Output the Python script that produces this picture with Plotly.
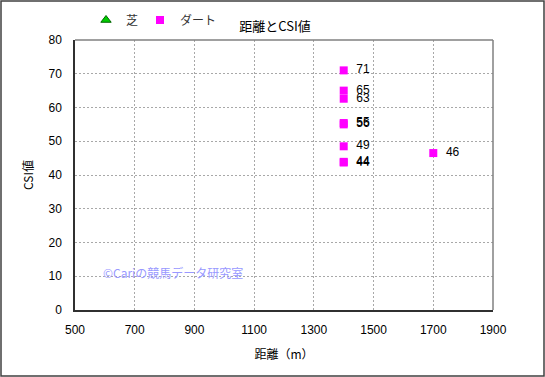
import plotly.graph_objects as go

# data
turf_dist = [None]
turf_csi = [None]
dirt_dist = [1400, 1400, 1400, 1400, 1400, 1400, 1400, 1400, 1700]
dirt_csi = [71.0, 65.0, 62.6, 55.4, 55.0, 48.5, 43.9, 43.7, 46.5]
dirt_labels = ["71", "65", "63", "55", "56", "49", "44", "44", "46"]
x_ticks = [500, 700, 900, 1100, 1300, 1500, 1700, 1900]
y_ticks = [0, 10, 20, 30, 40, 50, 60, 70, 80]

FONT = "Liberation Sans, Noto Sans CJK JP"
JFONT = "Noto Sans CJK JP"
W, H = 545, 377
L, R, T, B = 75, 52, 40, 67
pw, ph = W - L - R, H - T - B

fig = go.Figure()
fig.add_trace(go.Scatter(
    x=turf_dist, y=turf_csi, mode="markers", name="芝", legend="legend",
    marker=dict(symbol="triangle-up", size=9, color="#00cc00",
                line=dict(color="#006600", width=1)),
))
fig.add_trace(go.Scatter(
    x=dirt_dist, y=dirt_csi, mode="markers+text", name="ダート", legend="legend2",
    text=dirt_labels, texttemplate="  %{text}", textposition="middle right",
    textfont=dict(family=FONT, size=12, color="#000000"),
    marker=dict(symbol="square", size=8, color="#ff00ff"),
    cliponaxis=False,
))

def px_x(p):
    return (p - L) / pw

def px_y(p):
    return (H - B - p) / ph

# outer frame
fig.add_shape(type="rect", xref="paper", yref="paper",
              x0=px_x(1), x1=px_x(W - 1), y0=px_y(H - 1), y1=px_y(1),
              line=dict(color="#404040", width=1.5), layer="below")
# top and right plot border (gray)
fig.add_shape(type="line", xref="paper", yref="paper", x0=0, x1=1, y0=1, y1=1,
              line=dict(color="#808080", width=1.5))
fig.add_shape(type="line", xref="paper", yref="paper", x0=1, x1=1, y0=0, y1=1,
              line=dict(color="#808080", width=1.5))

fig.add_annotation(text="©Cariの競馬データ研究室", xref="paper", yref="paper",
                   x=px_x(101), y=px_y(272), xanchor="left", yanchor="middle",
                   showarrow=False,
                   font=dict(family=JFONT, size=12, color="#9999ff"))

legend_common = dict(orientation="h", xref="container", yref="container",
                     y=1 - 20 / H, xanchor="left", yanchor="middle",
                     font=dict(family=JFONT, size=12, color="#333333"),
                     itemwidth=30, bgcolor="rgba(0,0,0,0)")

fig.update_layout(
    width=W, height=H,
    margin=dict(l=L, r=R, t=T, b=B, autoexpand=False),
    paper_bgcolor="white", plot_bgcolor="white",
    font=dict(family=FONT, size=12, color="#000000"),
    title=dict(text="距離とCSI値", x=275 / W, xanchor="center",
               y=1 - 26 / H, yanchor="middle",
               font=dict(family=JFONT, size=13, color="#000000")),
    showlegend=True,
    legend=dict(x=86 / W, **legend_common),
    legend2=dict(x=140 / W, **legend_common),
    xaxis=dict(range=[500, 1900], tickvals=x_ticks, ticks="outside", ticklen=8,
               tickcolor="rgba(0,0,0,0)", showgrid=True,
               gridcolor="#a8a8a8", griddash="2px,2px", gridwidth=1,
               zeroline=False, showline=True, linecolor="#303030", linewidth=1.5,
               title=dict(text="距離（m）", standoff=14,
                          font=dict(family=JFONT, size=12)),
               tickfont=dict(family=FONT, size=12)),
    yaxis=dict(range=[0, 80], tickvals=y_ticks, ticks="outside", ticklen=9,
               tickcolor="rgba(0,0,0,0)", showgrid=True,
               gridcolor="#a8a8a8", griddash="2px,2px", gridwidth=1,
               zeroline=False, showline=True, linecolor="#303030", linewidth=1.5,
               title=dict(text="CSI値", standoff=12,
                          font=dict(family=JFONT, size=12)),
               tickfont=dict(family=FONT, size=12)),
)

fig.write_html("out.html", config={"displayModeBar": False},
               post_script="document.body.style.margin='0';")
